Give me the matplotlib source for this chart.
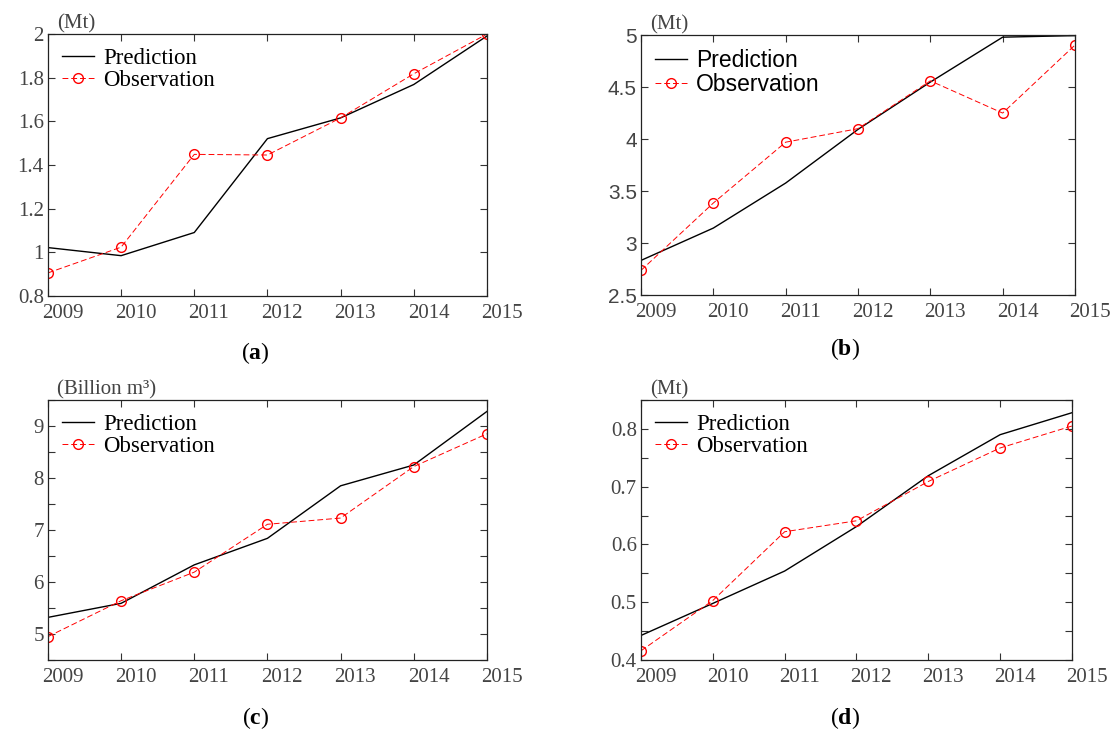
import matplotlib
matplotlib.use("Agg")
import matplotlib.pyplot as plt
import matplotlib.transforms as mtransforms

plt.rcParams['font.family'] = ['Liberation Serif', 'DejaVu Serif']
plt.rcParams['mathtext.fontset'] = 'custom'
plt.rcParams['mathtext.bf'] = 'Liberation Serif:bold'
plt.rcParams['mathtext.rm'] = 'Liberation Serif'

years = [2009, 2010, 2011, 2012, 2013, 2014, 2015]

# (a)
pred_a = [1.022, 0.985, 1.091, 1.521, 1.616, 1.769, 1.991]
obs_a = [0.906, 1.024, 1.449, 1.446, 1.616, 1.818, 2.0]
# (b)
pred_b = [2.833, 3.144, 3.577, 4.093, 4.548, 4.98, 4.995]
obs_b = [2.737, 3.385, 3.97, 4.1, 4.56, 4.25, 4.904]
# (c)
pred_c = [5.32, 5.59, 6.33, 6.84, 7.85, 8.25, 9.28]
obs_c = [4.95, 5.64, 6.19, 7.11, 7.23, 8.22, 8.85]
# (d)
pred_d = [0.4425, 0.498, 0.554, 0.631, 0.719, 0.790, 0.828]
obs_d = [0.416, 0.503, 0.622, 0.641, 0.709, 0.767, 0.805]

panels = [
    dict(pos=[0.043, 0.595, 0.3937, 0.3584], pred=pred_a, obs=obs_a, ylim=(0.8, 2.0),
         ticks=[0.8, 1.0, 1.2, 1.4, 1.6, 1.8, 2.0], labels=['0.8', '1', '1.2', '1.4', '1.6', '1.8', '2'],
         unit='(Mt)', tag='a', sans=False, cap=(0.229, 0.517)),
    dict(pos=[0.5749, 0.5964, 0.3892, 0.3556], pred=pred_b, obs=obs_b, ylim=(2.5, 5.0),
         ticks=[2.5, 3, 3.5, 4, 4.5, 5], labels=['2.5', '3', '3.5', '4', '4.5', '5'],
         unit='(Mt)', tag='b', sans=True, cap=(0.758, 0.5226)),
    dict(pos=[0.043, 0.0971, 0.3937, 0.3557], pred=pred_c, obs=obs_c, ylim=(4.5, 9.5),
         ticks=[4.5, 5, 5.5, 6, 6.5, 7, 7.5, 8, 8.5, 9, 9.5],
         labels=['', '5', '', '6', '', '7', '', '8', '', '9', ''],
         unit='(Billion m³)', tag='c', sans=False, cap=(0.229, 0.0178)),
    dict(pos=[0.5749, 0.0971, 0.3865, 0.3557], pred=pred_d, obs=obs_d, ylim=(0.4, 0.85),
         ticks=[0.4, 0.45, 0.5, 0.55, 0.6, 0.65, 0.7, 0.75, 0.8, 0.85],
         labels=['0.4', '', '0.5', '', '0.6', '', '0.7', '', '0.8', ''],
         unit='(Mt)', tag='d', sans=False, cap=(0.758, 0.0178)),
]

fig = plt.figure(figsize=(11.15, 7.31), dpi=100)
grey = '#444444'

for p in panels:
    ax = fig.add_axes(p['pos'])
    ax.plot(years, p['pred'], color='black', lw=1.0, label='Prediction')
    ax.plot(years, p['obs'], color='red', lw=0.7, dashes=(6, 3), marker='o', ms=7,
            mfc='none', mec='red', mew=1.0, label='Observation')
    ax.set_xlim(2009, 2015)
    ax.set_ylim(*p['ylim'])
    ax.set_xticks(years)
    ax.set_xticklabels([str(y) for y in years])
    ax.set_yticks(p['ticks'])
    ax.set_yticklabels(p['labels'])
    ax.tick_params(direction='in', top=True, right=True, length=5, width=0.8,
                   colors='#333333', labelcolor=grey, labelsize=15, pad=3)
    ax.tick_params(axis='x', pad=6)
    for s in ax.spines.values():
        s.set_color('#222222')
        s.set_linewidth(0.9)
    off = mtransforms.ScaledTranslation(-0.06, 0, fig.dpi_scale_trans)
    for lab in ax.get_xticklabels():
        lab.set_horizontalalignment('left')
        lab.set_transform(lab.get_transform() + off)
    if p['sans']:
        for lab in ax.get_yticklabels():
            lab.set_family('Liberation Sans')
    leg_font = {'family': 'Liberation Sans' if p['sans'] else 'Liberation Serif', 'size': 16.5}
    ax.legend(loc='upper left', frameon=False, prop=leg_font, handlelength=1.4,
              handletextpad=0.4, labelspacing=0.05, borderaxespad=0.2,
              bbox_to_anchor=(0.0, 1.0))
    ax.text(0.02, 1.003, p['unit'], transform=ax.transAxes, ha='left', va='bottom',
            fontsize=15, color=grey)
    fig.text(p['cap'][0], p['cap'][1], r'($\mathbf{' + p['tag'] + r'}$)', fontsize=17,
             ha='center', va='center', color='black')

fig.savefig('out.png', dpi=100)
